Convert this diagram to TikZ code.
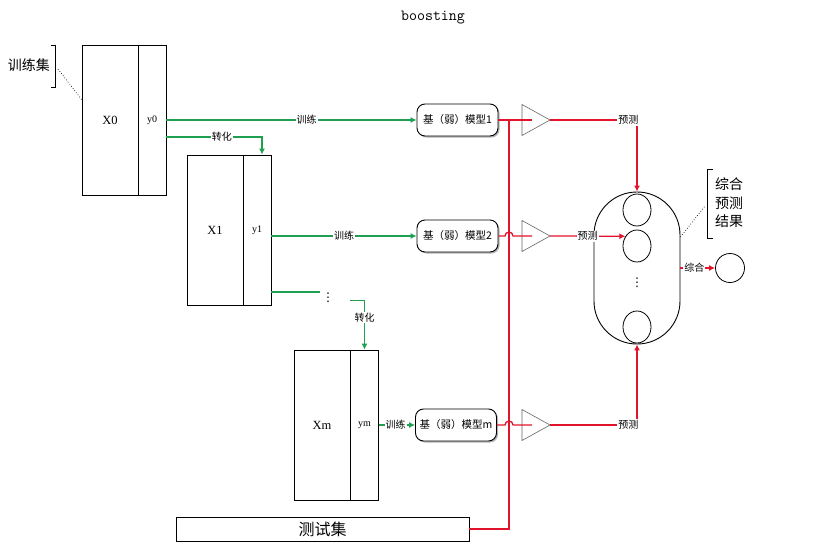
\documentclass[tikz,border=0pt]{standalone}
\usepackage{fontspec}
\setmainfont{Liberation Serif}
\newfontfamily\cjk{Noto Sans CJK SC}
\newfontfamily\symfont{DejaVu Sans}
\usetikzlibrary{arrows.meta,shadows,shapes.geometric}
\definecolor{trainGreen}{RGB}{30,160,80}
\definecolor{predRed}{RGB}{226,20,44}
\tikzset{
  databox/.style={draw, line width=0.9pt, minimum height=150pt, inner sep=0pt},
  featbox/.style={databox, minimum width=56pt, font=\fontsize{12.5}{12.5}\selectfont},
  labbox/.style={databox, minimum width=28pt, font=\fontsize{10}{10}\selectfont},
  model/.style={draw, line width=0.9pt, rounded corners=8pt, fill=white,
    minimum width=81pt, minimum height=32pt, font=\cjk\fontsize{10.5}{10.5}\selectfont,
    drop shadow={shadow xshift=1.5pt, shadow yshift=-1.5pt, fill=black!60}},
  gline/.style={trainGreen, line width=1.1pt},
  rline/.style={predRed, line width=1.3pt},
  edgelab/.style={fill=white, inner sep=1pt, text=black, font=\cjk\fontsize{10}{10}\selectfont},
  vdots/.style={inner sep=0pt, font=\symfont\fontsize{12}{12}\selectfont},
  ball/.style={draw, ellipse, line width=0.8pt, minimum width=28pt, minimum height=32pt, inner sep=0pt},
  amp/.pic={
    \draw[black!60, line width=0.6pt] (0,-15.5) -- (28,0) -- (0,15.5) -- cycle;
    \coordinate (-in) at (10,0);
    \coordinate (-out) at (28,0);
  }
}
\begin{document}
\begin{tikzpicture}[x=1pt, y=-1pt, >={Latex[length=6pt,width=6pt]}]
    \useasboundingbox (0,0) rectangle (831,552);

    % 1. 标题
    \node[font=\ttfamily\fontsize{15.5}{15.5}\selectfont] (title) at (433,18) {boosting};

    % 2. 训练集 (X, y)
    \node[featbox] (X0) at (110,120) {X0};
    \node[labbox] (y0) at (152,120) {y0};
    \node[featbox] (X1) at (215,230) {X1};
    \node[labbox] (y1) at (257,230) {y1};
    \node[featbox] (Xm) at (322,425) {Xm};
    \node[labbox] (ym) at (364.5,425) {ym};
    \node[vdots] (dots1) at (328,298) {⋮};

    \node[font=\cjk\fontsize{14}{14}\selectfont] (trainlab) at (29,65) {训练集};
    \draw[line width=0.9pt] (50.5,45) -- (55.5,45) -- (55.5,87) -- (50.5,87);
    \coordinate (br1) at (58,69);
    \draw[dotted, line width=0.7pt] (br1) -- ([yshift=-55pt]X0.north west);

    % 3. 基(弱)模型
    \node[model] (m1) at (457.5,120) {基（弱）模型1};
    \node[model] (m2) at (457.5,236) {基（弱）模型2};
    \node[model] (mm) at (456,425) {基（弱）模型m};

    % 4. 训练 / 转化 (绿色)
    \draw[gline,->] (y0.east) -- (m1.west) node[edgelab, pos=0.56] {训练};
    \draw[gline,->] ([yshift=-17pt]y0.east) -| ([xshift=5pt]y1.north) node[edgelab, pos=0.29] {转化};
    \draw[gline,->] (y1.east |- m2.west) -- (m2.west) node[edgelab, pos=0.5] {训练};
    \draw[gline] ([yshift=-62pt]y1.east) -- ++(49,0);
    \draw[gline,->] ([xshift=-14.5pt, yshift=49pt]ym.north) -| (ym.north) node[edgelab, pos=0.67] {转化};
    \draw[gline,->] (ym.east) -- (mm.west) node[edgelab, pos=0.46] {训练};

    % 5. 测试集
    \node[draw, line width=0.9pt, minimum width=293pt, minimum height=24pt, inner sep=0pt,
          font=\cjk\fontsize{16}{16}\selectfont] (ts) at (322.5,529) {测试集};
    \coordinate (bus) at (509,120);
    \draw[rline] (ts.east) -| (bus);

    % 6. 预测
    \pic (a1) at (522,120) {amp};
    \pic (a2) at (522,236) {amp};
    \pic (a3) at (522,425) {amp};
    \draw[rline] (m1.east) -- (a1-in);
    \draw[rline] (m2.east) -- ([xshift=-4pt]bus |- m2.east) arc[start angle=180, end angle=0, radius=4pt] -- (a2-in);
    \draw[rline] (mm.east) -- ([xshift=-4pt]bus |- mm.east) arc[start angle=180, end angle=0, radius=4pt] -- (a3-in);

    % 7. 综合
    \node[draw, line width=0.9pt, rounded corners=42.9pt, minimum width=86pt, minimum height=152pt] (ens) at (637,268) {};
    \node[ball] (c1) at (637,210) {};
    \node[ball] (c2) at (637,246) {};
    \node[ball] (c3) at (637,327) {};
    \node[vdots] (dots2) at (637,283) {⋮};
    \node[draw, circle, line width=0.8pt, minimum size=29pt, inner sep=0pt] (out) at (730,268) {};

    \draw[rline,->] (a1-out) -| (ens.north) node[edgelab, pos=0.45] {预测};
    \draw[rline,->] (a2-out) -- (c2.140) node[edgelab, pos=0.5] {预测};
    \draw[rline,->] (a3-out) -| (ens.south) node[edgelab, pos=0.45] {预测};
    \draw[rline,->] (ens.east) -- (out.west) node[edgelab, pos=0.4] {综合};

    \node[font=\cjk\fontsize{14}{18.5}\selectfont, align=left] (reslab) at (729,203) {综合\\预测\\结果};
    \draw[line width=0.9pt] (712.5,169) -- (707,169) -- (707,238) -- (712.5,238);
    \coordinate (br2) at (705,206);
    \draw[dotted, line width=0.7pt] ([yshift=31pt]ens.east) -- (br2);
\end{tikzpicture}
\end{document}
